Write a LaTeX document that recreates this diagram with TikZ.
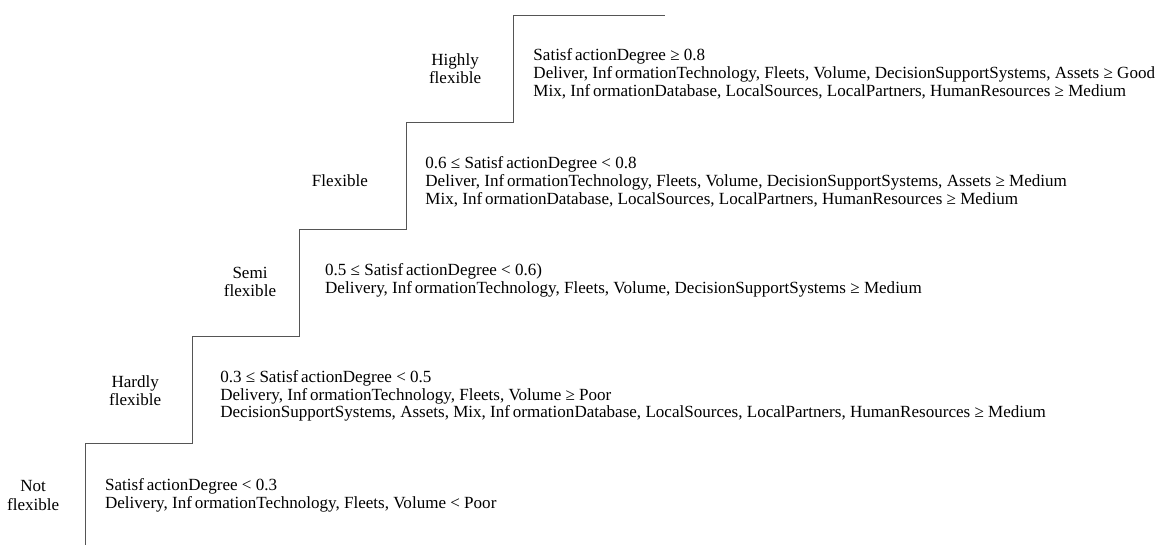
\documentclass[tikz,border=0pt]{standalone}
\usepackage{fontspec}
\setmainfont{Liberation Serif}
\usetikzlibrary{positioning,calc}
\definecolor{stufe_grau}{HTML}{555555}

\begin{document}
\begin{tikzpicture}[scale=1.0,
  level/.style={align=center, inner sep=0pt, font=\fontsize{13.6}{14.6}\selectfont},
  rule/.style={align=left, anchor=west, inner sep=0pt, font=\fontsize{13.6}{14.3}\selectfont}]
%\draw[step=1cm, very thin, red] (0cm,0cm) grid (33cm,15cm);
\useasboundingbox (0cm,0cm) rectangle (32.72cm,15.28cm);

% staircase
\draw[line width=0.7pt, stufe_grau] (2.4cm,0cm) -- (2.4cm,2.85cm) -- (2.4cm+3cm,2.85cm) -- (2.4cm+3cm,2.85cm+3cm) -- (2.4cm+6cm,2.85cm+3cm) -- (2.4cm+6cm,2.85cm+6cm) -- (2.4cm+9cm,2.85cm+6cm) -- (2.4cm+9cm,2.85cm+9cm) -- (2.4cm+12cm,2.85cm+9cm) -- (2.4cm+12cm,2.85cm+12cm) -- (18.65cm,2.85cm+12cm);

\node[level] (notflexible) at (0.93cm,1.39cm) {Not\\flexible};
\node[level] (hardlyflexible) at (3.79cm,4.32cm) {Hardly\\flexible};
\node[level] (semiflexible) at (7.01cm,7.37cm) {Semi\\flexible};
\node[level] (flexible) at (9.53cm,10.21cm) {Flexible};
\node[level] (highlyflexible) at (12.76cm,13.35cm) {Highly\\flexible};

\node[rule] (notrule) at (2.94cm,1.39cm) {Satisf\,actionDegree < 0.3\\Delivery, Inf\,ormationTechnology, Fleets, Volume < Poor};
\node[rule] (hardlyrule) at (6.17cm,4.18cm) {0.3 ≤ Satisf\,actionDegree < 0.5\\Delivery, Inf\,ormationTechnology, Fleets, Volume ≥ Poor\\DecisionSupportSystems, Assets, Mix, Inf\,ormationDatabase, LocalSources, LocalPartners, HumanResources ≥ Medium};
\node[rule] (semirule) at (9.11cm,7.43cm) {0.5 ≤ Satisf\,actionDegree < 0.6)\\Delivery, Inf\,ormationTechnology, Fleets, Volume, DecisionSupportSystems ≥ Medium};
\node[rule] (flexrule) at (11.92cm,10.18cm) {0.6 ≤ Satisf\,actionDegree < 0.8\\Deliver, Inf\,ormationTechnology, Fleets, Volume, DecisionSupportSystems, Assets ≥ Medium\\Mix, Inf\,ormationDatabase, LocalSources, LocalPartners, HumanResources ≥ Medium};
\node[rule] (highlyrule) at (14.95cm,13.21cm) {Satisf\,actionDegree ≥ 0.8\\Deliver, Inf\,ormationTechnology, Fleets, Volume, DecisionSupportSystems, Assets ≥ Good\\Mix, Inf\,ormationDatabase, LocalSources, LocalPartners, HumanResources ≥ Medium};
\end{tikzpicture}
\end{document}
